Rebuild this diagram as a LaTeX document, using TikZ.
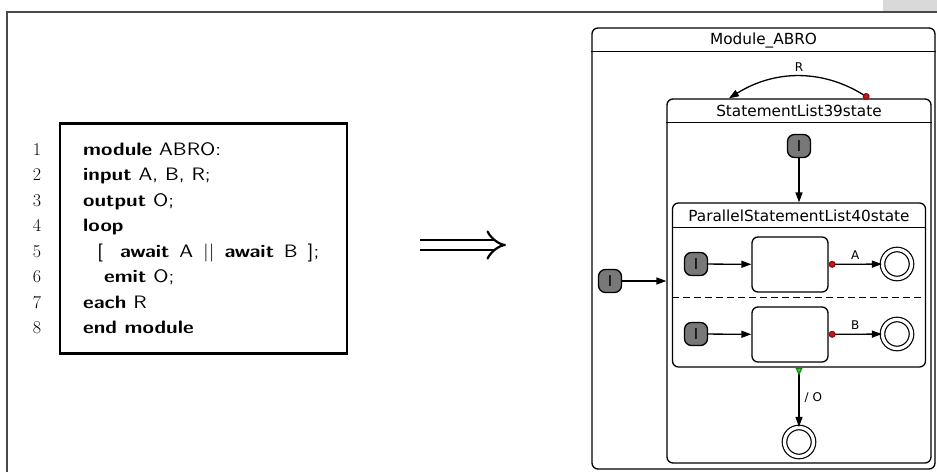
\documentclass[tikz,border=0pt]{standalone}
\usepackage{fontspec}
\usepackage{tikz}
\usetikzlibrary{arrows.meta}
\setsansfont{lmsans10-regular}[Extension=.otf,BoldFont=lmsans10-bold,FakeStretch=1.15]
\newfontfamily\chartfont{DejaVu Sans}
\definecolor{hexcolor0x4a4a4a}{rgb}{0.290,0.290,0.290}
\definecolor{hexcolor0xd9d9d9}{rgb}{0.851,0.851,0.851}
\definecolor{hexcolor0x787878}{rgb}{0.471,0.471,0.471}
\definecolor{hexcolor0xdd1111}{rgb}{0.867,0.067,0.067}
\definecolor{hexcolor0x881111}{rgb}{0.533,0.067,0.067}
\definecolor{hexcolor0x33dd33}{rgb}{0.200,0.867,0.200}
\definecolor{hexcolor0x118811}{rgb}{0.067,0.533,0.067}
\definecolor{myblack}{rgb}{0.000,0.000,0.000}
\definecolor{mywhite}{rgb}{1.000,1.000,1.000}
\tikzstyle{codebox}=[draw=myblack,line width=2.7pt,inner sep=0]
\tikzstyle{lineno}=[anchor=base,inner sep=0,font=\fontsize{18}{21}\selectfont]
\tikzstyle{codeline}=[anchor=base west,inner sep=0,font=\fontsize{18}{21}\selectfont\sffamily]
\tikzstyle{kbox}=[draw=myblack,rounded corners=6pt,line width=1.3pt,inner sep=0]
\tikzstyle{ktitle}=[inner sep=0,font=\fontsize{15.3}{18}\selectfont\chartfont]
\tikzstyle{klabel}=[inner sep=0,font=\fontsize{12}{14}\selectfont\chartfont]
\tikzstyle{kinit}=[rounded corners=7pt,fill=hexcolor0x787878,draw=myblack,line width=1.3pt,minimum width=23pt,minimum height=23pt,inner sep=0,font=\fontsize{15}{18}\selectfont\chartfont]
\tikzstyle{kstate}=[kbox,minimum width=76pt,minimum height=55pt]
\tikzstyle{kfinal}=[circle,draw=myblack,double=mywhite,double distance=3.3pt,line width=1.2pt,minimum size=29pt,inner sep=0]
\tikzstyle{trans}=[draw=myblack,line width=1.3pt,-{Triangle[length=10pt,width=7pt]}]
\tikzstyle{abort}=[draw=myblack,line width=1.3pt,{Circle[length=7pt,width=7pt,fill=hexcolor0xdd1111,color=hexcolor0x881111]}-{Triangle[length=10pt,width=7pt]}]
\tikzstyle{normal}=[draw=myblack,line width=1.3pt,{Triangle[reversed,length=8pt,width=7pt,fill=hexcolor0x33dd33,color=hexcolor0x118811]}-{Triangle[length=10pt,width=7pt]}]

\begin{document}
\begin{tikzpicture}[x=1pt,y=-1pt]
	\useasboundingbox (0,0) rectangle (937,472);
	% slide frame
	\fill [hexcolor0xd9d9d9] (883,0) rectangle (937,11.5);
	\draw [line width=1.5pt,hexcolor0x4a4a4a] (7,472) -- (7,12) -- (937,12);

	% esterel source
		\node [style=codebox,minimum width=287pt,minimum height=230pt] (0) at (203.5,238.5) {};
		\node [style=lineno] (1) at (37,155) {1};
		\node [style=lineno] (2) at (37,180.5) {2};
		\node [style=lineno] (3) at (37,206) {3};
		\node [style=lineno] (4) at (37,231.5) {4};
		\node [style=lineno] (5) at (37,257) {5};
		\node [style=lineno] (6) at (37,282.5) {6};
		\node [style=lineno] (7) at (37,308) {7};
		\node [style=lineno] (8) at (37,333.5) {8};
		\node [style=codeline] (9) at (83,155) {\textbf{module} ABRO:};
		\node [style=codeline] (10) at (83,180.5) {\textbf{input} A, B, R;};
		\node [style=codeline] (11) at (83,206) {\textbf{output} O;};
		\node [style=codeline] (12) at (83,231.5) {\textbf{loop}};
		\node [style=codeline] (13) at (97,257) {[\hspace{10pt} \textbf{await}\hspace{3pt} A\hspace{3pt} ||\hspace{3pt} \textbf{await}\hspace{3pt} B\hspace{3pt} ];};
		\node [style=codeline] (14) at (104,282.5) {\textbf{emit} O;};
		\node [style=codeline] (15) at (83,308) {\textbf{each} R};
		\node [style=codeline] (16) at (83,333.5) {\textbf{end module}};

	% translation arrow
		\coordinate (17) at (420,245);
		\coordinate (18) at (506,245);
		\draw [line width=2.2pt,double,double distance=8pt,-{Implies[scale=1.25]}] (17) to (18);

	% synccharts
		\node [style=kbox,minimum width=343pt,minimum height=441pt] (20) at (763.5,248.5) {};
		\node [style=ktitle] (21) at (763.5,40) {Module\_ABRO};
		\node [style=kbox,minimum width=264pt,minimum height=364pt] (22) at (799,281) {};
		\node [style=ktitle] (23) at (799,111) {StatementList39state};
		\node [style=kbox,minimum width=253pt,minimum height=164pt] (24) at (799,285) {};
		\node [style=ktitle] (25) at (799,216) {ParallelStatementList40state};
		\node [style=kinit] (26) at (610,281) {I};
		\node [style=kinit] (27) at (799,146) {I};
		\node [style=kinit] (28) at (696,264) {I};
		\node [style=kstate] (29) at (790,264.5) {};
		\node [style=kfinal] (30) at (897,264) {};
		\node [style=kinit] (31) at (696,334) {I};
		\node [style=kstate] (32) at (790,334.5) {};
		\node [style=kfinal] (33) at (897,334) {};
		\node [style=kfinal] (34) at (799,442) {};

		\draw [line width=1.3pt] ([yshift=-24pt]20.north west) -- ([yshift=-24pt]20.north east);
		\draw [line width=1.3pt] ([yshift=-24pt]22.north west) -- ([yshift=-24pt]22.north east);
		\draw [line width=1.3pt] ([yshift=-25pt]24.north west) -- ([yshift=-25pt]24.north east);
		\draw [line width=1.5pt,dash pattern=on 7pt off 4pt] ([yshift=-95pt]24.north west) -- ([yshift=-95pt]24.north east);

		\draw [style=trans] (26) -- (26 -| 22.west);
		\draw [style=trans] (27) -- (24);
		\draw [style=trans] (28) -- (29);
		\draw [style=abort] (29) -- node [style=klabel,above=4pt] {A} (30);
		\draw [style=trans] (31) -- (32);
		\draw [style=abort] (32) -- node [style=klabel,above=4pt] {B} (33);
		\draw [style=normal] (24) -- node [style=klabel,right=5pt] {/ O} (34);
		\draw [style=abort] (22.69) to [bend right=32] node [style=klabel,above=4pt] {R} (22.111);
\end{tikzpicture}
\end{document}
